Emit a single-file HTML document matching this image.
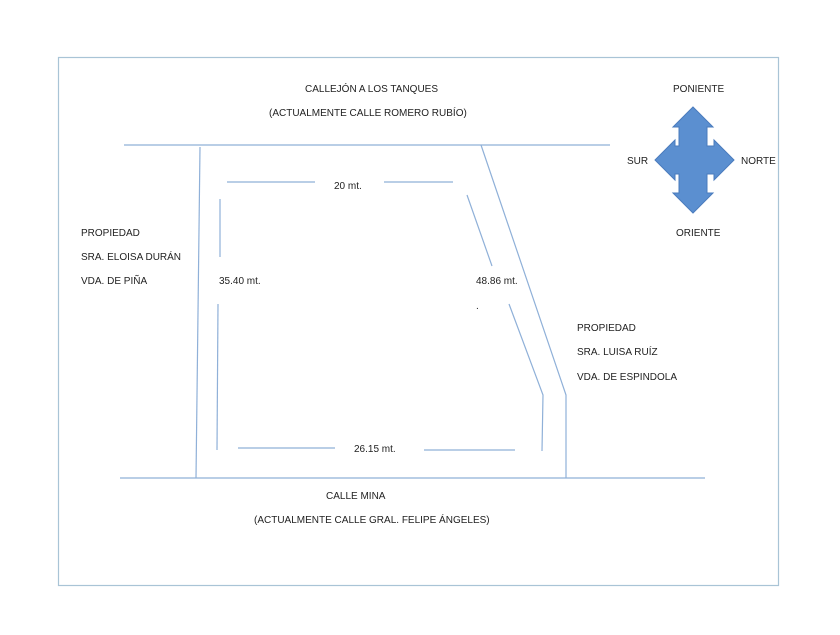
<!DOCTYPE html>
<html><head><style>
body{margin:0;background:#fff;}
svg text{font-family:"Liberation Sans",sans-serif;font-size:10px;fill:#222;}
</style></head><body>
<svg width="840" height="630" viewBox="0 0 840 630" xmlns="http://www.w3.org/2000/svg">
<rect x="58.5" y="57.5" width="720" height="528" fill="none" stroke="#a9c4d6" stroke-width="1.2"/>
<g stroke="#8fb0d8" stroke-width="1.2" fill="none">
<line x1="124" y1="145" x2="610" y2="145"/>
<line x1="120" y1="478" x2="705" y2="478"/>
<line x1="200" y1="147" x2="196" y2="478"/>
<polyline points="481,145 566,395 566,478"/>
<line x1="227" y1="182" x2="315" y2="182"/>
<line x1="384" y1="182" x2="453" y2="182"/>
<line x1="220" y1="199" x2="220" y2="257"/>
<line x1="218" y1="304" x2="217" y2="450"/>
<line x1="467" y1="195" x2="492" y2="266"/>
<polyline points="509,304 543,395 542,451"/>
<line x1="238" y1="448" x2="335" y2="448"/>
<line x1="424" y1="450" x2="515" y2="450"/>
</g>
<polygon points="693,107 713,127 707,127 707,146 714,146 714,140 734,160 714,180 714,174 707,174 707,193 713,193 693,213 673,193 679,193 679,174 675,174 675,180 655,160 675,140 675,146 679,146 679,127 673,127" fill="#5b8fd0" stroke="#4a7bbd" stroke-width="1"/>
<text x="305" y="92">CALLEJÓN A LOS TANQUES</text>
<text x="269" y="116">(ACTUALMENTE CALLE ROMERO RUBÍO)</text>
<text x="673" y="92">PONIENTE</text>
<text x="627" y="164">SUR</text>
<text x="741" y="164">NORTE</text>
<text x="676" y="236">ORIENTE</text>
<text x="334" y="189">20 mt.</text>
<text x="219" y="284">35.40 mt.</text>
<text x="476" y="284">48.86 mt.</text>
<text x="476" y="309">.</text>
<text x="354" y="452">26.15 mt.</text>
<text x="81" y="236">PROPIEDAD</text>
<text x="81" y="260">SRA. ELOISA DURÁN</text>
<text x="81" y="284">VDA. DE PIÑA</text>
<text x="577" y="331">PROPIEDAD</text>
<text x="577" y="355">SRA. LUISA RUÍZ</text>
<text x="577" y="380">VDA. DE ESPINDOLA</text>
<text x="326" y="499">CALLE MINA</text>
<text x="254" y="523">(ACTUALMENTE CALLE GRAL. FELIPE ÁNGELES)</text>
</svg>
</body></html>
